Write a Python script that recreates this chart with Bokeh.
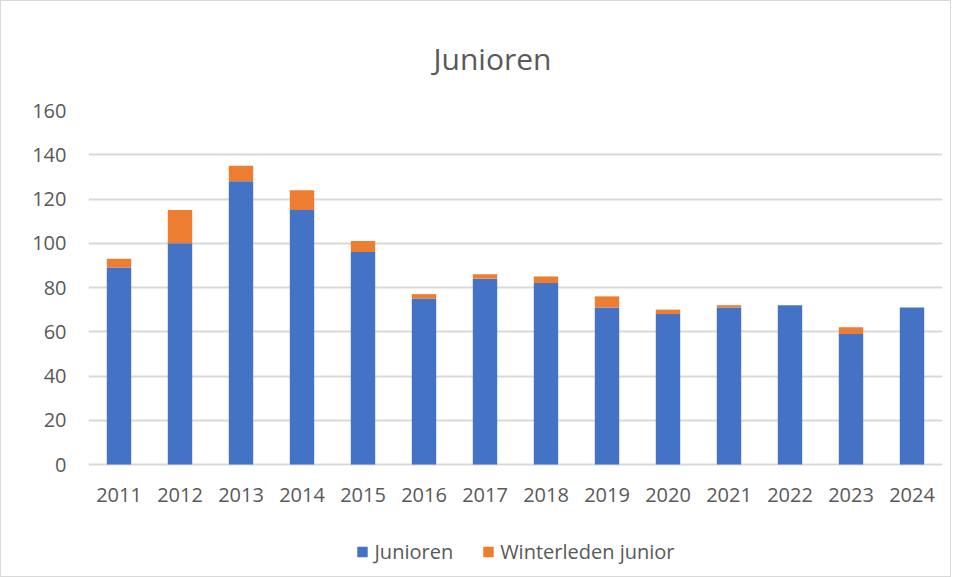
from bokeh.plotting import figure
from bokeh.models import ColumnDataSource, FixedTicker, Legend, LegendItem, Range1d
from bokeh.core.properties import value
from bokeh.embed import file_html
from bokeh.resources import INLINE

years = ["2011", "2012", "2013", "2014", "2015", "2016", "2017",
         "2018", "2019", "2020", "2021", "2022", "2023", "2024"]
junioren = [89, 100, 128, 115, 96, 75, 84, 82, 71, 68, 71, 72, 59, 71]
winterleden = [4, 15, 7, 9, 5, 2, 2, 3, 5, 2, 1, 0, 3, 0]
y_ticks = [0, 20, 40, 60, 80, 100, 120, 140, 160]

source = ColumnDataSource(dict(years=years, Junioren=junioren, Winterleden=winterleden,
                               base=[0] * len(years)))

FONT = "Open Sans"
GREY = "#595959"

# frame extends below the zero line to hold the category labels and the legend
p = figure(x_range=years, y_range=Range1d(-49.7, 160), frame_width=854, frame_height=464,
           output_backend="svg", toolbar_location=None, x_axis_location=None,
           min_border_left=87, min_border_right=8, min_border_top=109, min_border_bottom=2)

p.title.text = "Junioren"
p.title.align = "left"
p.title.offset = 345
p.title.standoff = 64
p.title.text_font = FONT
p.title.text_font_size = "30px"
p.title.text_font_style = "normal"
p.title.text_color = GREY

renderers = p.vbar_stack(["Junioren", "Winterleden"], x="years", width=0.4, source=source,
                         color=["#4472c4", "#ed7d31"], line_color=None)

# category labels under the zero line
p.text(x="years", y="base", text="years", source=source, y_offset=30,
       text_align="center", text_baseline="middle", text_font=value(FONT),
       text_font_size="20px", text_color=GREY)

p.outline_line_color = None
p.xgrid.grid_line_color = None
p.ygrid.grid_line_color = "#d9d9d9"
p.ygrid.grid_line_width = 2
p.yaxis.ticker = FixedTicker(ticks=y_ticks)
p.yaxis.major_tick_line_color = None
p.yaxis.minor_tick_line_color = None
p.yaxis.major_label_text_font = FONT
p.yaxis.major_label_text_font_size = "20px"
p.yaxis.major_label_text_color = GREY
p.yaxis.axis_line_color = None
p.yaxis.major_label_standoff = 16
p.x_range.range_padding = 0.0

legend = Legend(items=[LegendItem(label="Junioren", renderers=[renderers[0]]),
                       LegendItem(label="Winterleden junior", renderers=[renderers[1]])],
                orientation="horizontal", location="bottom_center",
                label_text_font=FONT, label_text_font_size="20px", label_text_color=GREY,
                glyph_width=13, glyph_height=13, spacing=28, label_standoff=6,
                border_line_color=None, background_fill_alpha=0, margin=9, padding=4)
p.add_layout(legend)
p.styles = {"border": "1px solid #d9d9d9"}

open("out.html", "w").write(file_html(p, INLINE))
